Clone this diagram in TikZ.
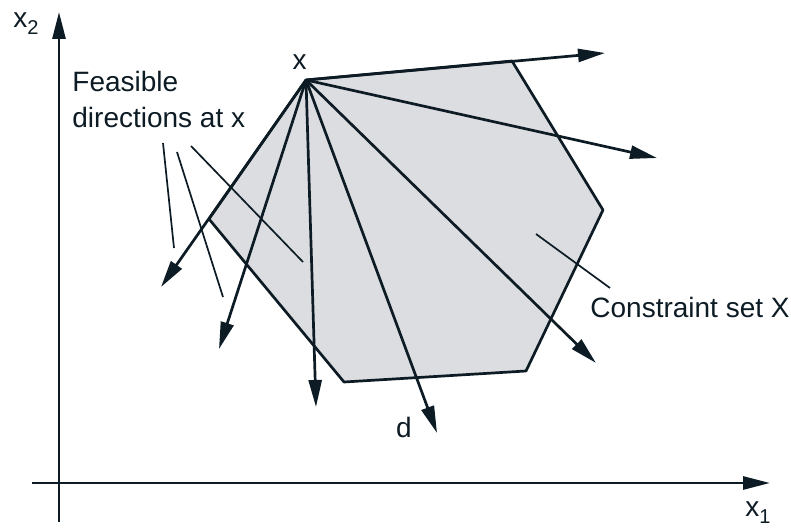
\documentclass[tikz,border=0pt]{standalone}
\usepackage{fontspec}
\setmainfont{Liberation Sans}
\usetikzlibrary{arrows.meta}
\definecolor{ink}{HTML}{0D1B24}
\definecolor{setgray}{HTML}{DCDDE0}
\newcommand{\lowsub}[1]{\raisebox{-3.5pt}{\fontsize{10}{10}\selectfont #1}}
\begin{document}
\begin{tikzpicture}[
    x=0.5pt, y=-0.5pt,
    axis/.style={ink, line width=1.4pt, -{Triangle[length=13.5pt, width=6.5pt]}},
    dirarrow/.style={ink, line width=1.35pt, -{Triangle[length=13.5pt, width=6.5pt]}},
    leader/.style={ink, line width=0.85pt},
    txt/.style={font=\fontsize{14}{18}\selectfont, text=ink, inner sep=0pt}
]
\useasboundingbox (0,0) rectangle (791,529);

% Ejes
\coordinate (O1) at (59,522);
\coordinate (O2) at (32,483);
\coordinate (X2) at (59,12);
\coordinate (X1) at (770,483);
\draw[axis] (O1) -- (X2);
\draw[axis] (O2) -- (X1);
\node[txt, anchor=base west] (lx2) at (13,28) {x\lowsub{2}};
\node[txt, anchor=base west] (lx1) at (745,516) {x\lowsub{1}};

% Conjunto factible (vertices)
\coordinate (X) at (306,80);
\coordinate (A) at (512,61);
\coordinate (B) at (603,210);
\coordinate (C) at (526,371);
\coordinate (D) at (344,382);
\coordinate (E) at (209,219);
\filldraw[fill=setgray, draw=ink, line width=1.35pt, line join=round]
    (X) -- (A) -- (B) -- (C) -- (D) -- (E) -- cycle;

% Direcciones factibles desde x
% Formato: nombre, punta x, punta y
\foreach \name/\px/\py in {
    d1/605/53,
    d2/657/158,
    d3/596/363,
    d4/437/433,
    d5/316/407,
    d6/219/349,
    d7/161/287
} {
    \coordinate (\name) at (\px,\py);
    \draw[dirarrow] (X) -- (\name);
}

% Etiquetas
\node[txt] (lx) at (299.5,62.5) {x};
\node[txt] (ld) at (404,427) {d};
\node[txt, anchor=base west] (lset) at (590,317) {Constraint set X};
\node[txt, anchor=base west, align=left] (lfeas) at (72,128) {Feasible\\directions at x};

% Lineas de referencia
\coordinate (s1) at (536,234);
\coordinate (s2) at (610,288);
\draw[leader] (s1) -- (s2);
\coordinate (f1) at (163,143); \coordinate (g1) at (174,248);
\coordinate (f2) at (177,152); \coordinate (g2) at (223,297);
\coordinate (f3) at (191,146); \coordinate (g3) at (303,262);
\foreach \i in {1,2,3}
    \draw[leader] (f\i) -- (g\i);
\end{tikzpicture}
\end{document}
